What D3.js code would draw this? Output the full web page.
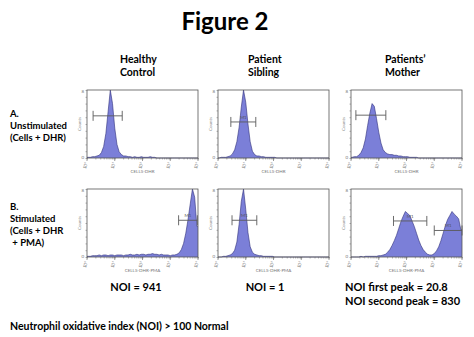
<!DOCTYPE html>
<html><head><meta charset="utf-8">
<script src="https://cdn.jsdelivr.net/npm/d3@7"></script>
<style>
html,body{margin:0;padding:0;background:#fff;}
svg{display:block;}
text{font-family:Lato,"Open Sans",sans-serif;}
</style></head>
<body>
<svg id="c" width="474" height="337"></svg>
<script>
// ---- data ----
const columns = ["Healthy|Control", "Patient|Sibling", "Patients’|Mother"];
const rowLabels = [["A.", "Unstimulated", "(Cells + DHR)"], ["B.", "Stimulated", "(Cells + DHR", " + PMA)"]];
const axisLabels = ["CELLS-DHR", "CELLS-DHR-PMA"];
const xTickLabels = ["10⁰", "10¹", "10²", "10³", "10⁴"];
const binStart = 0.04, binStep = 0.08; // log10 bin centres (50 bins, 10^0..10^4)

const healthyUnstim = [1,1,2,2,3,4,8,17,36,68,100,80,44,20,9,5,3,3,2,2,1,2,1,1,2,1,1,1,2,1,1,0,0,0,0,0,0,0,0,0,0,0,0,0,0,0,0,0,0,0];
const siblingUnstim = [0,1,1,1,2,3,6,12,24,45,75,100,82,50,24,10,5,3,3,2,2,1,1,1,1,1,0,0,0,0,0,0,0,0,0,0,0,0,0,0,0,0,0,0,0,0,0,0,0,0];
const motherUnstim  = [1,2,2,4,8,15,28,48,66,80,76,58,38,22,12,8,6,5,5,4,4,3,3,2,2,2,1,1,1,1,0,0,0,0,0,0,0,0,0,0,0,0,0,0,0,0,0,0,0,0];
const healthyStim   = [1,1,2,2,2,3,2,3,3,2,3,3,2,3,3,3,2,3,3,4,3,3,4,3,4,4,3,4,4,5,4,4,3,4,3,3,3,2,3,3,4,6,11,20,35,55,78,100,88,45];
const siblingStim   = [0,0,1,1,2,3,5,10,22,48,82,100,70,36,15,7,4,3,2,2,1,1,1,1,1,0,0,0,0,0,0,0,0,0,0,0,0,0,0,0,0,0,0,0,0,0,0,0,0,0];
const motherStim    = [0,0,0,0,1,0,1,1,1,1,1,1,2,2,3,4,7,11,17,24,32,42,52,60,67,64,61,53,45,35,25,17,11,7,4,3,3,5,9,15,24,35,46,55,61,67,63,60,56,40];

const series = [healthyUnstim, siblingUnstim, motherUnstim, healthyStim, siblingStim, motherStim];
// gates: [low, high, level, label]
const gates = [
  [[1.66, 18.6, 62, ""]],
  [[2.9, 23, 53, "M1"]],
  [[1.5, 18, 63, ""]],
  [[2000, 9500, 54, "M1"]],
  [[3.2, 25, 54, "M1"]],
  [[34, 540, 53, "M1"], [1000, 10000, 39, "M1"]]
];
const noiLines = [["NOI = 941"], ["NOI = 1"], ["NOI first peak = 20.8", "NOI second peak = 830"]];

// ---- layout ----
const svg = d3.select("#c");
const colX = [87, 218, 351], rowY = [90, 189];
const pw = 111, ph = 68;

svg.append("text").attr("x", 225).attr("y", 30).attr("text-anchor", "middle")
  .attr("font-size", 24).attr("font-weight", "bold").text("Figure 2");

const headX = [120, 248, 385];
columns.forEach((c, i) => {
  c.split("|").forEach((l, j) => {
    svg.append("text").attr("x", headX[i]).attr("y", 63 + j * 13)
      .attr("font-size", 10.5).attr("font-weight", "bold").text(l);
  });
});

const rowBase = [117, 210];
rowLabels.forEach((lines, r) => {
  lines.forEach((l, j) => {
    svg.append("text").attr("x", 10).attr("y", rowBase[r] + j * 12)
      .attr("font-size", 9.5).attr("font-weight", "bold").attr("xml:space", "preserve").text(l);
  });
});

const fillCol = "#7b7fd8";
series.forEach((vals, k) => {
  const r = Math.floor(k / 3), c = k % 3;
  const x0 = colX[c], y0 = rowY[r];
  const g = svg.append("g").attr("transform", `translate(${x0},${y0})`);
  const x = d3.scaleLog().domain([1, 10000]).range([0, pw]);
  const y = d3.scaleLinear().domain([0, 100]).range([ph, 0]);
  const pts = vals.map((v, i) => [Math.pow(10, binStart + i * binStep), v]);
  const full = [[1, pts[0][1]], ...pts, [10000, pts[pts.length - 1][1]]];
  const area = d3.area().x(d => x(d[0])).y0(ph).y1(d => y(d[1]));
  const line = d3.line().x(d => x(d[0])).y(d => y(d[1]));
  g.append("path").datum(full).attr("d", area).attr("fill", fillCol);
  g.append("path").datum(full).attr("d", line).attr("fill", "none").attr("stroke", "#30307a").attr("stroke-width", 0.6);
  // frame
  g.append("rect").attr("width", pw).attr("height", ph).attr("fill", "none").attr("stroke", "#555").attr("stroke-width", 0.8);
  // x axis ticks
  const xa = d3.axisBottom(x).tickValues([1,2,3,4,5,6,7,8,9,10,20,30,40,50,60,70,80,90,100,200,300,400,500,600,700,800,900,1000,2000,3000,4000,5000,6000,7000,8000,9000,10000])
    .tickSize(1.5).tickFormat("");
  g.append("g").attr("transform", `translate(0,${ph})`).call(xa)
    .call(s => { s.select(".domain").remove(); s.selectAll("line").attr("stroke", "#666").attr("stroke-width", 0.5); });
  [1, 10, 100, 1000, 10000].forEach((v, i) => {
    g.append("line").attr("x1", x(v)).attr("x2", x(v)).attr("y1", ph).attr("y2", ph + 3).attr("stroke", "#555").attr("stroke-width", 0.6);
    g.append("text").attr("transform", `translate(${x(v) + 1},${ph + 5}) rotate(-70)`)
      .attr("text-anchor", "end").attr("font-size", 4.5).attr("fill", "#777").text(xTickLabels[i]);
  });
  // y axis ticks
  const ya = d3.axisLeft(y).ticks(8).tickSize(1.5).tickFormat("");
  g.append("g").call(ya).call(s => { s.select(".domain").remove(); s.selectAll("line").attr("stroke", "#666").attr("stroke-width", 0.5); });
  g.append("text").attr("x", -3).attr("y", ph + 1).attr("text-anchor", "end").attr("font-size", 4.5).attr("fill", "#777").text("0");
  g.append("text").attr("x", -3).attr("y", 3).attr("text-anchor", "end").attr("font-size", 4.5).attr("fill", "#777").text("8");
  g.append("text").attr("transform", `translate(-6,${ph / 2}) rotate(-90)`).attr("text-anchor", "middle")
    .attr("font-size", 4.5).attr("fill", "#888").text("Counts");
  g.append("text").attr("x", pw / 2).attr("y", ph + 15).attr("text-anchor", "middle")
    .attr("font-size", 4.5).attr("fill", "#777").text(axisLabels[r]);
  // gates
  gates[k].forEach(gt => {
    const gy = y(gt[2]);
    const gg = g.append("g").attr("stroke", "#5a5a5a").attr("stroke-width", 0.9);
    gg.append("line").attr("x1", x(gt[0])).attr("x2", x(gt[1])).attr("y1", gy).attr("y2", gy);
    gg.append("line").attr("x1", x(gt[0])).attr("x2", x(gt[0])).attr("y1", gy - 5).attr("y2", gy + 5);
    gg.append("line").attr("x1", x(gt[1])).attr("x2", x(gt[1])).attr("y1", gy - 5).attr("y2", gy + 5);
    if (gt[3]) g.append("text").attr("x", (x(gt[0]) + x(gt[1])) / 2).attr("y", gy - 3).attr("text-anchor", "middle")
      .attr("font-size", 4.5).attr("fill", "#555").text(gt[3]);
  });
});

const noiX = [[136, "middle"], [265, "middle"], [345, "start"]];
noiLines.forEach((lines, i) => {
  lines.forEach((l, j) => {
    svg.append("text").attr("x", noiX[i][0]).attr("y", 291 + j * 14).attr("text-anchor", noiX[i][1])
      .attr("font-size", 11).attr("font-weight", "bold").text(l);
  });
});
svg.append("text").attr("x", 10).attr("y", 330).attr("font-size", 10.5).attr("font-weight", "bold")
  .text("Neutrophil oxidative index (NOI) > 100 Normal");
</script>
</body></html>
